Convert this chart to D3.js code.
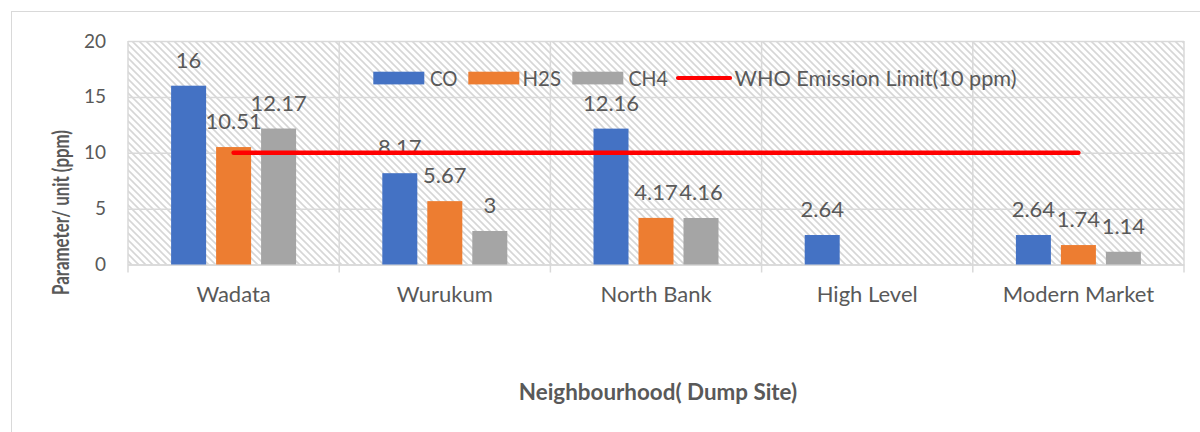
<!DOCTYPE html>
<html>
<head>
<meta charset="utf-8">
<script src="https://cdn.jsdelivr.net/npm/d3@7/dist/d3.min.js"></script>
<style>
  html, body { margin: 0; padding: 0; background: #fff; }
  svg { display: block; }
  text { font-family: Lato, "Liberation Sans", sans-serif; fill: #595959; }
</style>
</head>
<body>
<svg id="chart" width="1200" height="432"></svg>
<script>
// ---- data ----
const categories = ["Wadata", "Wurukum", "North Bank", "High Level", "Modern Market"];
const seriesNames = ["CO", "H2S", "CH4"];
const coValues  = [16, 8.17, 12.16, 2.64, 2.64];
const h2sValues = [10.51, 5.67, 4.17, null, 1.74];
const ch4Values = [12.17, 3, 4.16, null, 1.14];
const limitName = "WHO Emission Limit(10 ppm)";
const limitValues = [10, 10, 10, 10, 10];
const yTicks = [0, 5, 10, 15, 20];
const seriesColors = ["#4472c4", "#ed7d31", "#a5a5a5"];
const xTitle = "Neighbourhood( Dump Site)";
const yTitle = "Parameter/ unit (ppm)";

const seriesValues = [coValues, h2sValues, ch4Values];

// ---- layout ----
const plot = { left: 128, right: 1184, top: 41, bottom: 264.5 };
const svg = d3.select("#chart");

// outer chart border
svg.append("rect").attr("x", 11.5).attr("y", 11.5).attr("width", 1200).attr("height", 440)
  .attr("fill", "#fff").attr("stroke", "#d9d9d9").attr("stroke-width", 1);

// hatch pattern
const defs = svg.append("defs");
const pat = defs.append("pattern").attr("id", "hatch").attr("patternUnits", "userSpaceOnUse")
  .attr("width", 7).attr("height", 7);
pat.append("rect").attr("width", 7).attr("height", 7).attr("fill", "#fff");
pat.append("path").attr("d", "M-1,-1 L8,8 M-1,6 L1,8 M6,-1 L8,1")
  .attr("stroke", "#d6d6d6").attr("stroke-width", 1.6);

const x0 = d3.scaleBand().domain(categories).range([plot.left, plot.right]).padding(0);
const x1 = d3.scaleBand().domain(seriesNames).range([0, x0.bandwidth()])
  .paddingInner(0.222).paddingOuter(0.958);
const y = d3.scaleLinear().domain([0, 20]).range([plot.bottom, plot.top]);

// plot background
svg.append("rect").attr("x", plot.left).attr("y", plot.top)
  .attr("width", plot.right - plot.left).attr("height", plot.bottom - plot.top)
  .attr("fill", "url(#hatch)");

// horizontal gridlines via axis
const yAxis = d3.axisLeft(y).tickValues(yTicks).tickSize(-(plot.right - plot.left)).tickPadding(22);
const gy = svg.append("g").attr("transform", `translate(${plot.left},0)`).call(yAxis);
gy.select(".domain").remove();
gy.selectAll(".tick line").attr("stroke", "#d9d9d9").attr("stroke-width", 1.5);
gy.selectAll(".tick text").attr("font-size", 19).attr("fill", "#595959")
  .style("font-family", "Lato, sans-serif");

// vertical category gridlines (boundaries)
const boundaries = categories.map(c => x0(c)).concat([x0(categories[categories.length - 1]) + x0.bandwidth()]);
svg.append("g").selectAll("line").data(boundaries).join("line")
  .attr("x1", d => d).attr("x2", d => d)
  .attr("y1", plot.top).attr("y2", plot.bottom + 8)
  .attr("stroke", "#d9d9d9").attr("stroke-width", 1.5);

// category axis labels
const xAxis = d3.axisBottom(x0).tickSize(0).tickPadding(22);
const gx = svg.append("g").attr("transform", `translate(0,${plot.bottom})`).call(xAxis);
gx.select(".domain").attr("stroke", "#d9d9d9").attr("stroke-width", 1.5);
gx.selectAll(".tick text").attr("font-size", 22).attr("fill", "#595959")
  .style("font-family", "Lato, sans-serif");

// bars
const groups = svg.append("g").selectAll("g").data(categories).join("g")
  .attr("transform", c => `translate(${x0(c)},0)`);
const barData = (c, i) => seriesNames.map((s, k) => ({ s, k, v: seriesValues[k][i] })).filter(d => d.v != null);
groups.each(function (c, i) {
  const g = d3.select(this);
  const data = barData(c, i);
  g.selectAll("rect").data(data).join("rect")
    .attr("x", d => x1(d.s)).attr("width", x1.bandwidth())
    .attr("y", d => y(d.v)).attr("height", d => y(0) - y(d.v))
    .attr("fill", d => seriesColors[d.k]);
});

// limit line
const line = d3.line().x((d, i) => x0(categories[i]) + x0.bandwidth() / 2).y(d => y(d));
svg.append("path").datum(limitValues).attr("d", line)
  .attr("fill", "none").attr("stroke", "#ff0000").attr("stroke-width", 4.5).attr("stroke-linecap", "round");

// data labels
groups.each(function (c, i) {
  const g = d3.select(this);
  const data = barData(c, i);
  g.selectAll("text.lbl").data(data).join("text").attr("class", "lbl")
    .attr("x", d => x1(d.s) + x1.bandwidth() / 2).attr("y", d => y(d.v) - 18)
    .attr("text-anchor", "middle").attr("font-size", 22).attr("fill", "#404040")
    .text(d => d.v);
});

// legend
const legend = svg.append("g");
const ly = 78;
const swatchX = [373.3, 468.3, 572.3];
const legendTextX = [430, 522.5, 628.5];
const legendTextW = [27.5, 38.6, 39.4];
seriesNames.forEach((s, k) => {
  legend.append("rect").attr("x", swatchX[k]).attr("y", ly - 6.3).attr("width", 51).attr("height", 12.7)
    .attr("fill", seriesColors[k]);
  legend.append("text").attr("x", legendTextX[k]).attr("y", 86).attr("font-size", 20.5)
    .attr("textLength", legendTextW[k]).attr("lengthAdjust", "spacingAndGlyphs").text(s);
});
legend.append("line").attr("x1", 678).attr("x2", 730).attr("y1", ly).attr("y2", ly)
  .attr("stroke", "#ff0000").attr("stroke-width", 4.2).attr("stroke-linecap", "round");
legend.append("text").attr("x", 734.5).attr("y", 86).attr("font-size", 20.5)
  .attr("textLength", 282).attr("lengthAdjust", "spacingAndGlyphs").text(limitName);

// axis titles
svg.append("text").attr("x", 658).attr("y", 400).attr("text-anchor", "middle")
  .attr("font-size", 22.4).attr("font-weight", "bold").text(xTitle);
svg.append("text").attr("transform", "translate(68.5,212.5) rotate(-90)")
  .attr("text-anchor", "middle").attr("font-size", 23.5).attr("font-weight", "bold")
  .attr("textLength", 165).attr("lengthAdjust", "spacingAndGlyphs").text(yTitle);
</script>
</body>
</html>
